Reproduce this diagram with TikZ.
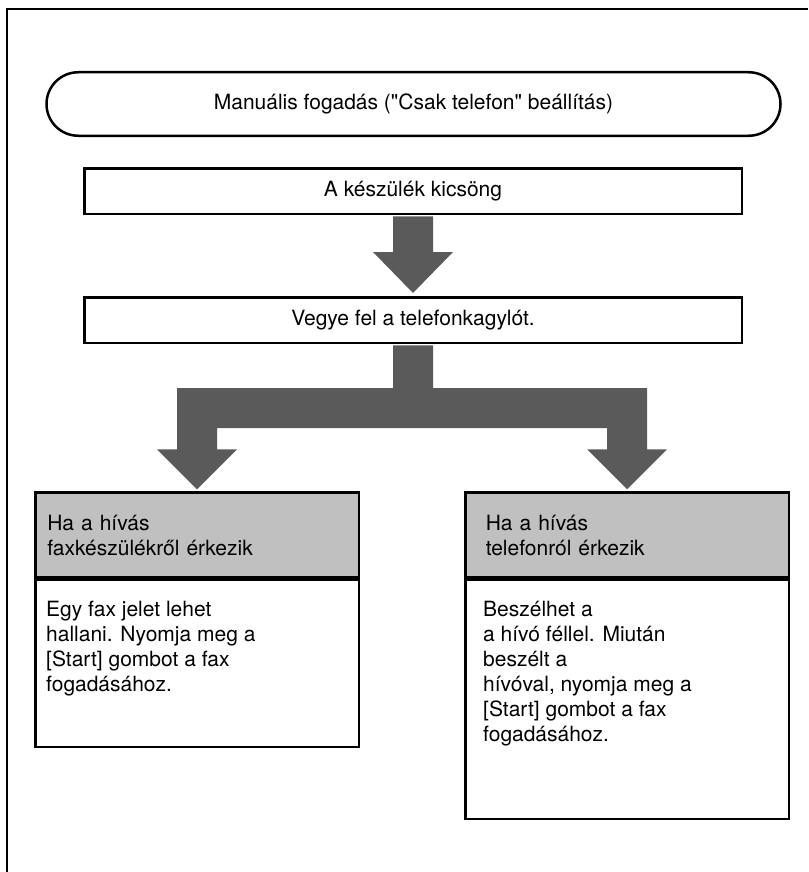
\documentclass[tikz,border=0pt]{standalone}
\usepackage{fontspec}
\setmainfont{TeX Gyre Heros}
\usetikzlibrary{positioning,calc}

\definecolor{arrowgray}{HTML}{5A5A5A}
\definecolor{headgray}{HTML}{C0C0C0}
% egyenes idezojel (a TeX-lekepezes nelkul)
\newcommand{\straightdq}{\XeTeXglyph\XeTeXcharglyph34\relax}

\begin{document}
\begin{tikzpicture}[x=1pt, y=-1pt,
  every node/.style={font=\fontsize{21}{25}\selectfont},
  frameline/.style={line width=2.2pt, black},
  terminal/.style={draw, line width=2.5pt, rounded corners=31.75pt, minimum width=734pt, minimum height=63.5pt},
  stepbox/.style={draw, line width=2.5pt, fill=white, minimum width=657.5pt, minimum height=45.5pt},
  headbox/.style={draw, line width=2.5pt, fill=headgray, minimum width=323.5pt, minimum height=85pt, align=left},
  bodybox/.style={draw, line width=2.5pt, fill=white, minimum width=323.5pt},
  bodytext/.style={anchor=north west, inner sep=0pt, align=left},
  blockarrow/.style={fill=arrowgray}
]
  \useasboundingbox (0,0) rectangle (808,872);

  % Keret
  \draw[frameline] (7,872) -- (7,9) -- (808,9);

  % Lepesek
  \node[terminal] (start) at (413.5,104) {Manuális fogadás (\straightdq Csak telefon\straightdq{} beállítás)};
  \node[stepbox] (ring) at (413,191) {A készülék kicsöng};
  \node[stepbox] (pickup) at (413,320) {Vegye fel a telefonkagylót.};

  % Esetek
  \node[headbox, text width=299.5pt, inner xsep=12pt, anchor=north] (faxhead) at (197,491.25) {Ha a hívás\\ faxkészülékről érkezik};
  \node[bodybox, minimum height=167pt, anchor=north] (faxbody) at (faxhead.south) {};
  \node[headbox, text width=282.5pt, inner xsep=20.5pt, anchor=north] (telhead) at (627,491.25) {Ha a hívás\\ telefonról érkezik};
  \node[bodybox, minimum height=239pt, anchor=north] (telbody) at (telhead.south) {};

  \node[bodytext] (faxtext) at ($(faxbody.north west)+(12,22)$) {Egy fax jelet lehet\\ hallani. Nyomja meg a\\ {[Start]} gombot a fax\\ fogadásához.};
  \node[bodytext] (teltext) at ($(telbody.north west)+(19,22)$) {Beszélhet a\\ a hívó féllel. Miután\\ beszélt a\\ hívóval, nyomja meg a\\ {[Start]} gombot a fax\\ fogadásához.};

  % Nyilak
  \fill[blockarrow] ($(ring.south)+(-20,1.3)$) -- ($(pickup.north)+(-20,-44)$) -- ++(-20,0)
    -- ($(pickup.north)+(0,-3)$) -- ($(pickup.north)+(40,-44)$) -- ++(-20,0)
    -- ($(ring.south)+(20,1.3)$) -- cycle;

  \coordinate (bar) at ($(pickup.south)+(0,44)$);
  \fill[blockarrow] ($(pickup.south)+(-20,1.3)$) -- ($(bar)+(-20,0)$)
    -- ($(bar -| faxhead.north)+(-20,0)$) -- ($(faxhead.north)+(-20,-42)$) -- ++(-20,0)
    -- ($(faxhead.north)+(0,-2)$) -- ($(faxhead.north)+(40,-42)$) -- ++(-20,0)
    -- ($(bar -| faxhead.north)+(20,40)$) -- ($(bar -| telhead.north)+(-20,40)$)
    -- ($(telhead.north)+(-20,-42)$) -- ++(-20,0)
    -- ($(telhead.north)+(0,-2)$) -- ($(telhead.north)+(40,-42)$) -- ++(-20,0)
    -- ($(bar -| telhead.north)+(20,0)$) -- ($(bar)+(20,0)$)
    -- ($(pickup.south)+(20,1.3)$) -- cycle;
\end{tikzpicture}
\end{document}
